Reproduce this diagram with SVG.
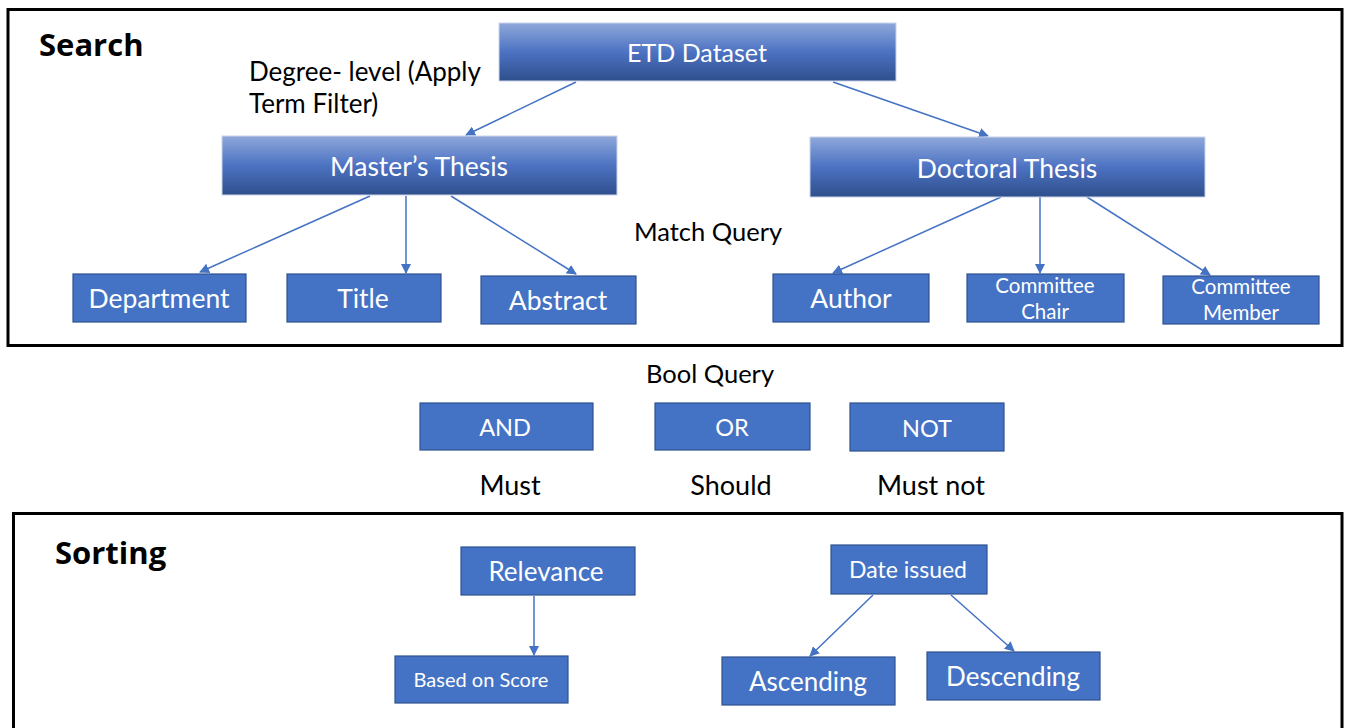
<svg xmlns="http://www.w3.org/2000/svg" width="1347" height="728" viewBox="0 0 1347 728">
<defs>
<linearGradient id="g" x1="0" y1="0" x2="0" y2="1">
<stop offset="0" stop-color="#8FA8DA"/>
<stop offset="0.5" stop-color="#4C72C2"/>
<stop offset="1" stop-color="#2F4F8C"/>
</linearGradient>
<marker id="ah" viewBox="0 0 10 10" refX="9" refY="5" markerWidth="10" markerHeight="10" markerUnits="userSpaceOnUse" orient="auto">
<path d="M0,0 L10,5 L0,10 z" fill="#4472C4"/>
</marker>
<style>
.frame{fill:none;stroke:#000;stroke-width:3}
.gb{fill:url(#g);stroke:#C9D3EA;stroke-width:1}
.fb{fill:#4472C4;stroke:#2F528F;stroke-width:1.2}
.wt{fill:#fff;font-family:Lato,"Open Sans",sans-serif;text-anchor:middle}
.bt{fill:#000;font-family:Lato,"Open Sans",sans-serif}
.hd{fill:#000;font-family:"Open Sans",Lato,sans-serif;font-weight:bold;font-size:31px}
.c{stroke:#4472C4;stroke-width:1.5;fill:none;marker-end:url(#ah)}
</style>
</defs>
<rect width="1347" height="728" fill="#fff"/>
<rect class="frame" x="8" y="9.5" width="1334" height="336"/>
<rect class="frame" x="13.5" y="513.5" width="1328.5" height="230"/>
<text class="hd" x="39" y="56">Search</text>
<text class="hd" x="55" y="564">Sorting</text>
<text class="bt" x="249" y="81" font-size="26">Degree- level (Apply</text>
<text class="bt" x="249" y="113" font-size="26">Term Filter)</text>
<text class="bt" x="708" y="241" font-size="25.5" text-anchor="middle">Match Query</text>
<text class="bt" x="710" y="383" font-size="25.5" text-anchor="middle">Bool Query</text>
<text class="bt" x="510" y="495" font-size="27" text-anchor="middle">Must</text>
<text class="bt" x="731" y="495" font-size="27" text-anchor="middle">Should</text>
<text class="bt" x="931" y="495" font-size="27" text-anchor="middle">Must not</text>

<g id="connectors">
<line class="c" x1="576" y1="82" x2="466" y2="135"/>
<line class="c" x1="833" y1="82" x2="988" y2="136"/>
<line class="c" x1="370" y1="196" x2="200" y2="272"/>
<line class="c" x1="406" y1="196" x2="406" y2="273"/>
<line class="c" x1="451" y1="196" x2="576" y2="274"/>
<line class="c" x1="1001" y1="197" x2="833" y2="273"/>
<line class="c" x1="1040" y1="197" x2="1040" y2="273"/>
<line class="c" x1="1087" y1="197" x2="1210" y2="275"/>
<line class="c" x1="534" y1="596" x2="534" y2="655"/>
<line class="c" x1="873" y1="595" x2="810" y2="656"/>
<line class="c" x1="951" y1="595" x2="1014" y2="651"/>
</g>

<g id="etd"><rect class="gb" x="499" y="23" width="397" height="58"/><text class="wt" x="697" y="62" font-size="25">ETD Dataset</text></g>
<g id="masters"><rect class="gb" x="222" y="136" width="395" height="59"/><text class="wt" x="419" y="176" font-size="26.5">Master’s Thesis</text></g>
<g id="doctoral"><rect class="gb" x="810" y="137" width="395" height="60"/><text class="wt" x="1007" y="178" font-size="26.5">Doctoral Thesis</text></g>

<g id="department"><rect class="fb" x="73" y="274" width="173" height="48"/><text class="wt" x="159" y="308" font-size="26.5">Department</text></g>
<g id="title"><rect class="fb" x="287" y="274" width="154" height="48"/><text class="wt" x="363" y="308" font-size="26.5">Title</text></g>
<g id="abstract"><rect class="fb" x="481" y="276" width="155" height="48"/><text class="wt" x="558" y="310" font-size="26.5">Abstract</text></g>
<g id="author"><rect class="fb" x="773" y="274" width="156" height="48"/><text class="wt" x="851" y="308" font-size="26.5">Author</text></g>
<g id="committee-chair"><rect class="fb" x="967" y="274" width="157" height="48"/><text class="wt" x="1045" y="293" font-size="20.5">Committee</text><text class="wt" x="1045" y="319" font-size="20.5">Chair</text></g>
<g id="committee-member"><rect class="fb" x="1163" y="276" width="156" height="48"/><text class="wt" x="1241" y="294" font-size="20.5">Committee</text><text class="wt" x="1241" y="320" font-size="20.5">Member</text></g>

<g id="and"><rect class="fb" x="420" y="403" width="173" height="47"/><text class="wt" x="505" y="436" font-size="23.5">AND</text></g>
<g id="or"><rect class="fb" x="655" y="403" width="155" height="47"/><text class="wt" x="732" y="436" font-size="23.5">OR</text></g>
<g id="not"><rect class="fb" x="850" y="403" width="154" height="48"/><text class="wt" x="927" y="437" font-size="23.5">NOT</text></g>

<g id="relevance"><rect class="fb" x="461" y="547" width="174" height="48"/><text class="wt" x="546" y="581" font-size="26">Relevance</text></g>
<g id="based-on-score"><rect class="fb" x="395" y="656" width="173" height="47"/><text class="wt" x="481" y="687" font-size="20">Based on Score</text></g>
<g id="date-issued"><rect class="fb" x="831" y="545" width="156" height="49"/><text class="wt" x="908" y="578" font-size="23">Date issued</text></g>
<g id="ascending"><rect class="fb" x="722" y="657" width="173" height="48"/><text class="wt" x="808" y="691" font-size="26">Ascending</text></g>
<g id="descending"><rect class="fb" x="927" y="652" width="173" height="48"/><text class="wt" x="1013" y="686" font-size="26">Descending</text></g>
</svg>
